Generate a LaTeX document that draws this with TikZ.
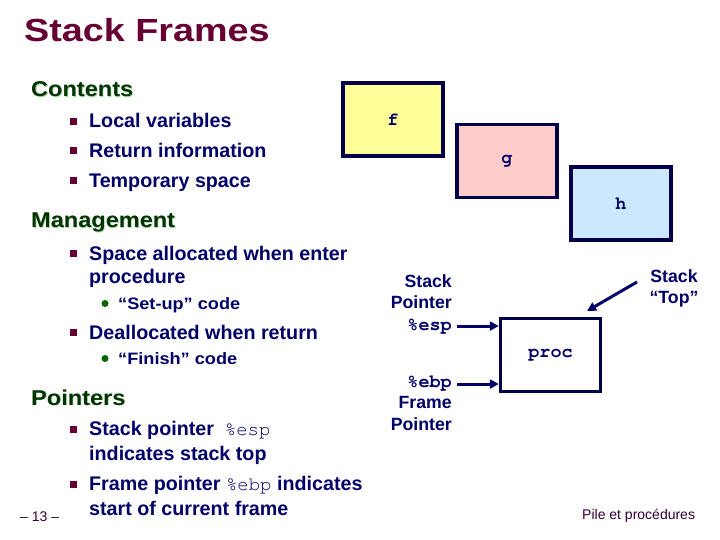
\documentclass[tikz,border=0pt]{standalone}
\usepackage{fontspec}
\usetikzlibrary{arrows.meta}
\setmainfont{Liberation Sans}
\setmonofont{texgyrecursor-regular.otf}[BoldFont=texgyrecursor-bold.otf]
\newfontfamily\titlefam[FakeStretch=1.18]{Liberation Sans}
\newfontfamily\headfam[FakeStretch=1.1]{Liberation Sans}
\newfontfamily\subfam[FakeStretch=1.1]{Liberation Sans}
\definecolor{navy}{RGB}{0,0,102}
\definecolor{boxline}{RGB}{0,0,72}
\definecolor{maroon}{RGB}{102,0,51}
\definecolor{headgreen}{RGB}{0,51,0}
\definecolor{glow}{RGB}{170,215,170}
\definecolor{subgreen}{RGB}{0,102,0}
\definecolor{fyellow}{RGB}{255,255,153}
\definecolor{gpink}{RGB}{255,204,204}
\definecolor{hblue}{RGB}{204,232,255}
\definecolor{footer}{RGB}{51,0,51}
\begin{document}
\begin{tikzpicture}[x=1pt,y=-1pt,
  title/.style={anchor=base west,inner sep=0,text=maroon,font=\titlefam\fontsize{32}{36}\selectfont\bfseries},
  head/.style={anchor=base west,inner sep=0,text=headgreen,font=\headfam\fontsize{21.4}{24}\selectfont\bfseries},
  headglow/.style={anchor=base west,inner sep=0,text=glow,font=\headfam\fontsize{21.4}{24}\selectfont\bfseries},
  body/.style={anchor=base west,inner sep=0,text=navy,font=\fontsize{19.7}{24}\selectfont\bfseries},
  sub/.style={anchor=base west,inner sep=0,text=navy,font=\subfam\fontsize{16.5}{20}\selectfont\bfseries},
  sqb/.style={rectangle,fill=maroon,minimum size=7pt,inner sep=0},
  dotb/.style={circle,fill=subgreen,minimum size=7pt,inner sep=0},
  lbl/.style={anchor=base east,inner sep=0,text=navy,font=\fontsize{17.7}{21}\selectfont\bfseries},
  lblc/.style={anchor=base,inner sep=0,text=navy,font=\fontsize{17.7}{21}\selectfont\bfseries},
  mlbl/.style={anchor=base east,inner sep=0,text=navy,font=\ttfamily\fontsize{18.5}{21}\selectfont\bfseries},
  frame/.style={draw=boxline,line width=3.4pt,minimum width=100pt,minimum height=73pt,inner sep=0,
    text=navy,font=\ttfamily\fontsize{18.5}{21}\selectfont\bfseries},
  arr/.style={draw=navy,line width=3pt,-{Triangle[length=9pt,width=9pt]}},
  foot/.style={anchor=base west,inner sep=0,text=footer,font=\fontsize{14}{16}\selectfont}
]
\useasboundingbox (0,0) rectangle (720,540);

% title
\node[title] (ttl) at (24,42) {Stack Frames};

% Contents
\node[headglow] (cont0) at (31.8,97.8) {Contents};
\node[head] (cont) at (31,97) {Contents};
\node[sqb] (b1) at (73.5,121.5) {};
\node[body] (t1) at (89,128) {Local variables};
\node[sqb] (b2) at (73.5,151) {};
\node[body] (t2) at (89,157.5) {Return information};
\node[sqb] (b3) at (73.5,181) {};
\node[body] (t3) at (89,187.5) {Temporary space};

% Management
\node[headglow] (man0) at (31.8,228.8) {Management};
\node[head] (man) at (31,228) {Management};
\node[sqb] (b4) at (73.5,253.5) {};
\node[body] (t4) at (89,260) {Space allocated when enter};
\node[body] (t4b) at (89,283.5) {procedure};
\node[dotb] (d1) at (105,303.5) {};
\node[sub] (s1) at (118,309) {“Set-up” code};
\node[sqb] (b5) at (73.5,332.5) {};
\node[body] (t5) at (89,339) {Deallocated when return};
\node[dotb] (d2) at (105,358.5) {};
\node[sub] (s2) at (118,364) {“Finish” code};

% Pointers
\node[headglow] (ptr0) at (31.8,405.8) {Pointers};
\node[head] (ptr) at (31,405) {Pointers};
\node[sqb] (b6) at (73.5,429) {};
\node[body] (t6) at (89,435) {Stack pointer\ \ {\ttfamily\mdseries\fontsize{19}{22}\selectfont\%esp}};
\node[body] (t6b) at (89,460) {indicates stack top};
\node[sqb] (b7) at (73.5,484) {};
\node[body] (t7) at (89,490) {Frame pointer {\ttfamily\mdseries\fontsize{19}{22}\selectfont\%ebp} indicates};
\node[body] (t7b) at (89,515) {start of current frame};

% footer
\node[foot] (pg) at (20,521) {– 13 –};
\node[foot] (pile) at (582,519) {Pile et procédures};

% frames
\node[frame,fill=fyellow] (f) at (393,119.5) {f};
\node[frame,fill=gpink] (g) at (507,161) {g};
\node[frame,fill=hblue] (h) at (621,203.5) {h};
\node[frame,fill=white] (proc) at (550.5,355) {proc};

% pointer labels
\node[lbl] (sp1) at (452,287) {Stack};
\node[lbl] (sp2) at (452,308) {Pointer};
\node[mlbl] (esp) at (452,330) {\%esp};
\node[mlbl] (ebp) at (452,387) {\%ebp};
\node[lbl] (fp1) at (452,408) {Frame};
\node[lbl] (fp2) at (452,430) {Pointer};
\node[lblc] (st1) at (674,282) {Stack};
\node[lblc] (st2) at (674,303) {“Top”};

\coordinate (espA) at (457,326);
\coordinate (ebpA) at (457,384);
\coordinate (topA) at (637,282);
\coordinate (topB) at (587,311);
\draw[arr] (espA) -- (espA -| proc.west);
\draw[arr] (ebpA) -- (ebpA -| proc.west);
\draw[arr] (topA) -- (topB);
\end{tikzpicture}
\end{document}
